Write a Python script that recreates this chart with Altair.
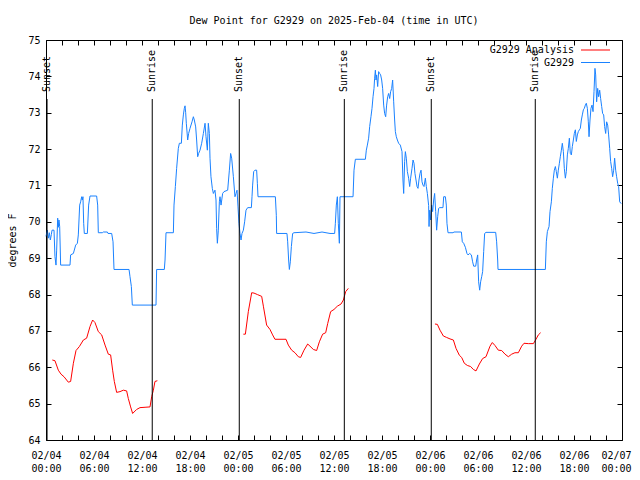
import json
import altair as alt
import pandas as pd

TITLE = "Dew Point for G2929 on 2025-Feb-04 (time in UTC)"
Y_TITLE = "degrees F"
FONT = "DejaVu Sans Mono"
BLUE = "#1a82ff"
RED = "#ff0000"

# hours since 2025-02-04 00:00 UTC
blue_hours = [
    0.00, 0.17, 0.29, 0.42, 0.54, 0.67, 0.75, 1.00, 1.12, 1.25, 1.33, 1.46, 1.54, 1.62, 1.71, 1.83,
    3.00, 3.08, 3.42, 3.71, 3.92, 4.04, 4.21, 4.33, 4.46, 4.54, 4.62, 4.71, 4.79, 5.17, 5.33, 5.50,
    6.33, 6.46, 6.54, 7.04, 7.17, 7.67, 7.75, 8.21, 8.38, 8.50, 10.38, 10.50, 10.67, 10.79,
    13.75, 13.83, 14.79, 14.88, 15.00, 15.92, 16.00, 16.17, 16.33, 16.54, 16.67, 16.92, 17.04, 17.17,
    17.29, 17.38, 17.46, 17.54, 17.71, 17.83, 18.00, 18.25, 18.42, 18.54, 18.71, 18.83, 18.96, 19.08,
    19.25, 19.46, 19.67, 19.88, 20.00, 20.17, 20.29, 20.42, 20.50, 20.62, 20.79, 20.92, 21.12, 21.25,
    21.33, 21.42, 21.54, 21.67, 21.75, 21.88, 22.08, 22.25, 22.71, 22.92, 23.08, 23.21, 23.42, 23.62,
    23.75, 23.88, 24.00, 24.12, 24.25, 24.38, 24.50, 24.67, 24.83, 25.00, 25.21, 25.67, 25.75, 25.83,
    25.96, 26.12, 26.33, 26.42, 26.50, 28.67, 28.79, 28.83, 30.12, 30.21, 30.33, 30.42, 30.54, 30.67,
    30.83, 31.00, 32.50, 33.50, 34.50, 35.50, 35.75, 36.08, 36.17, 36.29, 36.42, 36.54, 36.67, 36.75,
    38.38, 38.50, 38.67, 39.92, 40.04, 40.17, 40.33, 40.46, 40.62, 40.75, 40.88, 41.00, 41.08, 41.17,
    41.25, 41.33, 41.46, 41.58, 41.71, 41.83, 41.96, 42.08, 42.21, 42.33, 42.46, 42.58, 42.71, 42.83,
    42.96, 43.08, 43.21, 43.33, 43.46, 43.58, 43.67, 43.79, 43.92, 44.08, 44.29, 44.50, 44.62, 44.71,
    44.83, 44.92, 45.04, 45.17, 45.33, 45.46, 45.58, 45.75, 45.88, 46.00, 46.12, 46.25, 46.38, 46.50,
    46.62, 46.75, 46.88, 47.00, 47.12, 47.25, 47.42, 47.54, 47.67, 47.83, 47.88, 47.96, 48.08, 48.21,
    48.33, 48.46, 48.58, 48.71, 48.83, 48.96, 49.08, 49.21, 49.62, 49.71, 49.92, 50.04, 50.12, 50.25,
    50.88, 51.00, 51.92, 52.04, 52.21, 52.42, 52.62, 52.75, 52.96, 53.17, 53.33, 53.46, 53.71, 53.83,
    53.96, 54.08, 54.21, 54.33, 54.46, 54.58, 54.71, 54.83, 55.00, 56.21, 56.33, 56.46, 56.50,
    62.42, 62.54, 62.67, 62.88, 63.00, 63.17, 63.29, 63.42, 63.54, 63.67, 63.79, 63.92, 64.04, 64.17,
    64.29, 64.42, 64.54, 64.67, 64.79, 64.92, 65.04, 65.17, 65.29, 65.42, 65.54, 65.67, 65.79, 65.92,
    66.04, 66.17, 66.29, 66.42, 66.54, 66.67, 66.79, 66.92, 67.04, 67.17, 67.29, 67.42, 67.54, 67.67,
    67.79, 67.88, 68.00, 68.12, 68.25, 68.38, 68.50, 68.62, 68.71, 68.83, 68.96, 69.08, 69.21, 69.33,
    69.46, 69.58, 69.71, 69.83, 69.96, 70.08, 70.21, 70.33, 70.46, 70.58, 70.71, 70.83, 70.96, 71.08,
    71.21, 71.33, 71.46, 71.58, 71.71, 71.90,
]
blue_values = [
    69.60, 69.77, 69.55, 69.70, 69.50, 69.65, 69.77, 69.77, 69.04, 68.81, 69.20, 70.10, 69.85, 70.05, 69.87, 68.81,
    68.81, 69.09, 69.13, 69.36, 69.41, 69.64, 70.46, 70.55, 70.69, 70.60, 70.69, 69.96, 69.68, 69.68, 70.46, 70.71,
    70.71, 70.46, 69.70, 69.70, 69.72, 69.72, 69.68, 69.68, 69.45, 68.69, 68.69, 68.49, 68.22, 67.71,
    67.71, 68.69, 68.69, 68.95, 69.70, 69.70, 70.46, 70.97, 71.47, 72.02, 72.16, 72.16, 72.66, 72.94,
    73.12, 73.19, 73.00, 72.71, 72.25, 72.43, 72.57, 72.75, 72.89, 72.80, 72.61, 72.25, 71.79, 71.88,
    71.97, 72.16, 72.43, 72.71, 72.34, 71.97, 72.71, 72.43, 71.75, 71.24, 70.92, 70.78, 70.87, 70.60,
    69.82, 69.41, 69.77, 70.55, 70.69, 70.46, 70.78, 70.83, 70.87, 71.42, 71.88, 71.75, 71.24, 70.69,
    70.78, 70.87, 70.41, 69.96, 69.68, 69.50, 69.68, 69.77, 70.00, 70.32, 70.39, 70.39, 70.69, 71.01,
    71.38, 71.42, 71.42, 71.06, 70.69, 70.69, 70.18, 69.68, 69.68, 69.45, 68.95, 68.69, 68.90, 69.32,
    69.68, 69.70, 69.72, 69.68, 69.72, 69.68, 69.68, 69.68, 69.96, 70.46, 70.69, 69.96, 69.41, 70.69,
    70.69, 71.42, 71.72, 71.72, 71.97, 72.11, 72.30, 72.62, 72.89, 73.12, 73.44, 73.67, 73.95, 74.17,
    73.90, 74.04, 73.72, 74.13, 74.08, 74.04, 73.90, 73.67, 73.21, 72.98, 72.89, 73.21, 73.44, 73.53,
    73.39, 73.58, 73.67, 73.90, 73.30, 72.80, 72.48, 72.34, 72.25, 72.16, 72.11, 71.93, 71.15, 70.78,
    71.66, 71.93, 71.75, 71.38, 71.20, 70.97, 71.20, 71.47, 71.70, 71.61, 71.33, 71.15, 70.97, 70.92,
    71.15, 71.33, 71.42, 71.10, 71.01, 70.97, 71.20, 70.97, 70.78, 70.45, 69.87, 70.32, 70.05, 70.46,
    70.28, 70.60, 70.78, 70.28, 69.77, 70.14, 70.37, 70.39, 70.39, 70.69, 70.69, 70.46, 69.96, 69.70,
    69.70, 69.72, 69.72, 69.45, 69.41, 69.30, 69.13, 69.09, 69.13, 69.09, 68.90, 68.78, 68.78, 68.95,
    69.09, 68.35, 68.12, 68.35, 68.49, 68.63, 69.18, 69.68, 69.71, 69.71, 69.45, 68.95, 68.69,
    68.69, 69.45, 69.73, 69.87, 70.28, 70.55, 70.92, 71.20, 71.42, 71.52, 71.38, 71.20, 71.42, 71.61,
    71.79, 71.97, 72.16, 71.93, 71.47, 71.20, 71.38, 71.84, 72.02, 72.30, 71.88, 71.84, 72.07, 72.25,
    72.43, 72.53, 72.21, 72.39, 72.48, 72.53, 72.57, 72.80, 72.94, 73.08, 73.12, 73.21, 73.26, 73.12,
    72.75, 72.34, 72.80, 73.12, 73.21, 73.03, 73.58, 74.22, 74.04, 73.30, 73.67, 73.44, 73.62, 73.39,
    73.17, 72.98, 72.94, 72.62, 72.43, 72.75, 72.66, 72.39, 72.02, 71.66, 71.47, 71.24, 71.42, 71.75,
    71.42, 71.24, 71.06, 70.97, 70.55, 70.50,
]

red_hours = [
    0.79, 1.12, 1.54, 1.88, 2.25, 2.79, 3.08, 3.42, 3.75, 4.17, 4.67, 5.08, 5.50, 5.83, 6.12, 6.54,
    6.96, 7.38, 7.79, 8.08, 8.33, 8.54, 8.83, 9.25, 9.67, 10.08, 10.29, 10.58, 10.83, 11.33, 11.75,
    12.38, 13.00, 13.21, 13.42, 13.62, 13.92,
    24.67, 24.92, 25.29, 25.71, 26.00, 26.42, 26.96, 27.17, 27.58, 28.00, 28.33, 28.62, 29.25, 30.00,
    30.29, 30.71, 31.12, 31.54, 31.83, 32.25, 32.71, 33.00, 33.42, 33.83, 34.17, 34.58, 34.96, 35.21,
    35.58, 36.00, 36.42, 36.88, 37.17, 37.46, 37.79,
    48.62, 48.92, 49.25, 49.67, 50.08, 50.50, 50.92, 51.25, 51.67, 51.96, 52.29, 52.67, 53.08, 53.42,
    53.75, 54.17, 54.58, 55.00, 55.50, 55.79, 56.12, 56.54, 56.96, 57.38, 57.79, 58.21, 58.62, 59.04,
    59.46, 59.75, 60.29, 60.92, 61.25, 61.54, 61.83,
]
red_values = [
    66.20, 66.18, 65.92, 65.81, 65.74, 65.59, 65.61, 66.11, 66.46, 66.57, 66.75, 66.80, 67.12, 67.30, 67.23, 66.98,
    66.89, 66.61, 66.36, 66.34, 65.92, 65.61, 65.31, 65.33, 65.37, 65.35, 65.14, 64.91, 64.73, 64.84, 64.89,
    64.90, 64.91, 65.19, 65.37, 65.61, 65.63,
    66.91, 66.91, 67.53, 68.05, 68.04, 68.00, 67.95, 67.68, 67.16, 67.04, 66.89, 66.77, 66.77, 66.77,
    66.61, 66.47, 66.40, 66.29, 66.27, 66.47, 66.64, 66.58, 66.49, 66.46, 66.70, 66.91, 66.95, 67.20,
    67.53, 67.59, 67.68, 67.74, 67.85, 68.08, 68.17,
    67.19, 67.18, 67.02, 66.86, 66.82, 66.78, 66.75, 66.52, 66.33, 66.27, 66.11, 66.05, 66.02, 65.94,
    65.90, 66.09, 66.24, 66.29, 66.58, 66.68, 66.60, 66.47, 66.46, 66.36, 66.29, 66.36, 66.40, 66.40,
    66.58, 66.66, 66.65, 66.65, 66.77, 66.89, 66.95,
]
red_segment = [1] * 37 + [2] * 35 + [3] * 35

event_hours = [0.13, 13.28, 24.16, 37.29, 48.16, 61.16]
event_labels = ["Sunset", "Sunrise", "Sunset", "Sunrise", "Sunset", "Sunrise"]

x_tick_values = [0, 2, 4, 6, 8, 10, 12, 14, 16, 18, 20, 22, 24, 26, 28, 30, 32, 34, 36,
                 38, 40, 42, 44, 46, 48, 50, 52, 54, 56, 58, 60, 62, 64, 66, 68, 70, 72]
x_major_labels = [["02/04", "00:00"], ["02/04", "06:00"], ["02/04", "12:00"], ["02/04", "18:00"],
                  ["02/05", "00:00"], ["02/05", "06:00"], ["02/05", "12:00"], ["02/05", "18:00"],
                  ["02/06", "00:00"], ["02/06", "06:00"], ["02/06", "12:00"], ["02/06", "18:00"],
                  ["02/07", "00:00"]]
y_tick_values = [64, 65, 66, 67, 68, 69, 70, 71, 72, 73, 74, 75]

legend_labels = ["G2929 Analysis", "G2929"]
legend_colors = [RED, BLUE]

W, H = 576, 400

blue_df = pd.DataFrame({"h": blue_hours, "v": blue_values})
red_df = pd.DataFrame({"h": red_hours, "v": red_values, "seg": red_segment})
ev_df = pd.DataFrame({"h": event_hours, "label": event_labels})

xscale = alt.Scale(domain=[0, 72], nice=False, zero=False)
yscale = alt.Scale(domain=[64, 75], nice=False, zero=False)

label_expr = "datum.value % 6 == 0 ? " + json.dumps(x_major_labels) + "[datum.value / 6] : ''"

bottom_axis = alt.Axis(values=x_tick_values, labelExpr=label_expr, title=None, grid=False,
                       domain=False, offset=-5, tickSize=5, labelPadding=10, labelLineHeight=13,
                       labelOverlap=False, labelFlush=False, labelBaseline="top",
                       labelOffset={"condition": {"test": "datum.value == 72", "value": -6}, "value": 0})
top_axis = alt.Axis(orient="top", values=x_tick_values, labels=False, title=None, grid=False,
                    domain=False, offset=-5, tickSize=5)
left_axis = alt.Axis(values=y_tick_values, title=Y_TITLE, grid=False, domain=False, offset=-5,
                     tickSize=5, labelPadding=6, titlePadding=10, labelFlush=False)
right_axis = alt.Axis(orient="right", values=y_tick_values, labels=False, title=None, grid=False,
                      domain=False, offset=-5, tickSize=5)

blue = alt.Chart(blue_df).mark_line(color=BLUE, strokeWidth=1).encode(
    x=alt.X("h:Q", scale=xscale, axis=bottom_axis),
    y=alt.Y("v:Q", scale=yscale, axis=left_axis),
)
red = alt.Chart(red_df).mark_line(color=RED, strokeWidth=1).encode(
    x=alt.X("h:Q", scale=xscale, axis=top_axis),
    y=alt.Y("v:Q", scale=yscale, axis=right_axis),
    detail="seg:N",
)
rules = alt.Chart(ev_df).mark_rule(color="black", strokeWidth=1).encode(
    x=alt.X("h:Q", scale=xscale, axis=None),
    y=alt.value(59),
    y2=alt.value(H),
)
ev_text = alt.Chart(ev_df).mark_text(angle=270, align="left", baseline="middle", font=FONT,
                                     fontSize=10, color="black").encode(
    x=alt.X("h:Q", scale=xscale, axis=None),
    y=alt.value(52),
    text="label:N",
)

layers = [blue, red, rules, ev_text]
for i, (lab, col) in enumerate(zip(legend_labels, legend_colors)):
    d = pd.DataFrame({"label": [lab]})
    ypos = 10 + 12.5 * i
    layers.append(alt.Chart(d).mark_text(align="right", baseline="middle", font=FONT, fontSize=10,
                                         color="black").encode(
        x=alt.value(528), y=alt.value(ypos), text="label:N"))
    layers.append(alt.Chart(d).mark_rule(color=col, strokeWidth=1).encode(
        x=alt.value(535), x2=alt.value(564), y=alt.value(ypos)))

chart = alt.layer(*layers).resolve_axis(x="independent", y="independent").properties(
    width=W, height=H,
    title=alt.TitleParams(TITLE, font=FONT, fontSize=10, fontWeight="normal", anchor="middle",
                          frame="group", offset=9, color="black"),
    padding={"left": 38, "top": 32, "right": 10, "bottom": 32},
    autosize=alt.AutoSizeParams(type="none"),
).configure_view(stroke="black", strokeWidth=1).configure_axis(
    labelFont=FONT, labelFontSize=10, labelColor="black", tickColor="black",
    titleFont=FONT, titleFontSize=10, titleFontWeight="normal", titleColor="black",
)

chart.save("out.html", embed_options={"renderer": "svg", "actions": False})
